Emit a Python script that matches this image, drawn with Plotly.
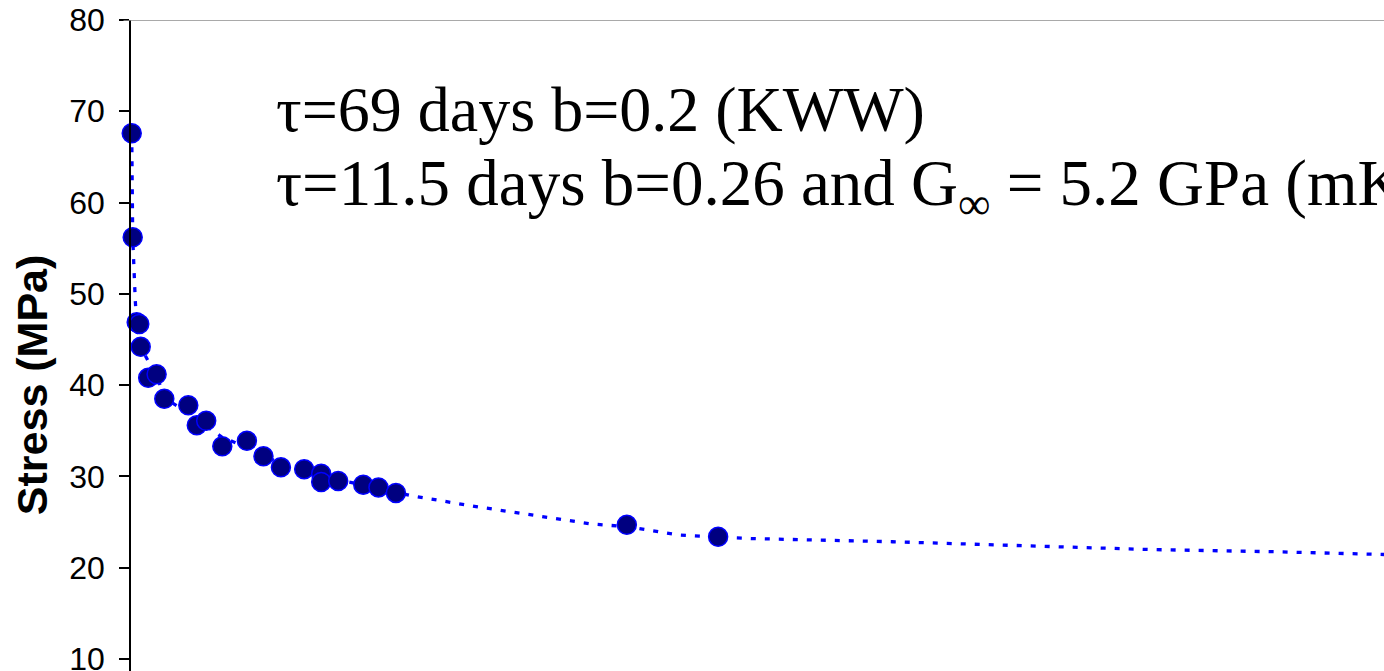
import plotly.graph_objects as go

# Measured stress relaxation (time in days, stress in MPa)
time_days = [0.16, 0.38, 1.27, 1.85, 2.17, 3.84, 5.72, 7.44, 12.8, 14.7, 16.8,
             20.4, 25.9, 29.6, 33.5, 38.7, 42.5, 42.5, 46.3, 51.9, 55.3, 59.2,
             110.8, 131.2]
stress_mpa = [67.6, 56.2, 46.9, 46.7, 44.2, 40.8, 41.2, 38.5, 37.8, 35.6, 36.1,
              33.3, 33.9, 32.2, 31.0, 30.8, 30.3, 29.4, 29.5, 29.1, 28.8, 28.2,
              24.7, 23.4]

# Fitted relaxation curve
fit_days = [0.16, 0.38, 0.96, 1.27, 2.17, 4.09, 5.8, 7.44, 12.7, 16.8, 20.3,
            25.9, 29.5, 33.5, 38.7, 46.3, 51.8, 55.2, 59.2, 62.5, 77.1, 93.6,
            102.9, 110.8, 122.2, 131.2, 138.6, 170.1, 198.7, 227.3, 255.9, 280.0]
fit_mpa = [67.6, 56.2, 49.2, 47.0, 44.2, 42.4, 41.0, 38.6, 37.0, 35.6, 34.3,
           33.2, 32.3, 31.4, 30.6, 29.6, 29.1, 28.7, 28.2, 27.9, 26.7, 25.5,
           24.8, 24.5, 23.6, 23.35, 23.2, 22.85, 22.45, 22.0, 21.75, 21.45]

y_ticks = [10, 20, 30, 40, 50, 60, 70, 80]

line1 = "τ=69 days b=0.2 (KWW)"
line2 = "τ=11.5 days b=0.26 and G<sub>∞</sub> = 5.2 GPa (mKWW)"
y_title = "<b>Stress (MPa)</b>"

fig = go.Figure()

fig.add_trace(go.Scatter(
    x=fit_days, y=fit_mpa, mode="lines",
    line=dict(color="#0000FF", width=3.3, dash="5px,9px"),
    cliponaxis=False, hoverinfo="skip", showlegend=False,
))

fig.add_trace(go.Scatter(
    x=time_days, y=stress_mpa, mode="markers",
    marker=dict(size=19, color="#000080", line=dict(color="#0000FF", width=1.5)),
    cliponaxis=False, showlegend=False,
))

fig.add_annotation(
    text=line1, xref="paper", yref="paper", x=0.1141, y=0.862,
    xanchor="left", yanchor="middle", showarrow=False,
    font=dict(family="Liberation Serif", size=64, color="black"),
)
fig.add_annotation(
    text=line2, xref="paper", yref="paper", x=0.1141, y=0.742,
    xanchor="left", yanchor="middle", showarrow=False,
    font=dict(family="Liberation Serif", size=65, color="black"),
)

# axis title, centred on the full 0-80 MPa axis span
fig.add_annotation(
    text=y_title, xref="paper", yref="y", x=-0.079, y=40,
    xanchor="center", yanchor="middle", textangle=-90, showarrow=False,
    font=dict(family="Liberation Sans", size=43, color="black"),
)

# top border of the plot area
fig.add_shape(type="line", xref="paper", yref="y", x0=-0.006, x1=1.0, y0=80, y1=80,
              line=dict(color="#8C8C8C", width=1.5))

fig.update_layout(
    width=1384, height=671,
    margin=dict(l=131, r=0, t=20, b=0),
    paper_bgcolor="white", plot_bgcolor="white",
    font=dict(family="Liberation Sans", color="black"),
)
fig.update_xaxes(range=[0, 280], visible=False, showgrid=False, zeroline=False)
fig.update_yaxes(
    range=[8.69, 80], tickvals=y_ticks, ticktext=[str(v) for v in y_ticks],
    showgrid=False, zeroline=False,
    showline=True, linecolor="black", linewidth=1.5,
    ticks="outside", ticklen=10, tickwidth=1.5, tickcolor="black",
    tickfont=dict(family="Liberation Sans", size=32, color="black"),
    ticklabelstandoff=8, ticklabeloverflow="allow",
    automargin=False,
)

fig.write_html("out.html")
